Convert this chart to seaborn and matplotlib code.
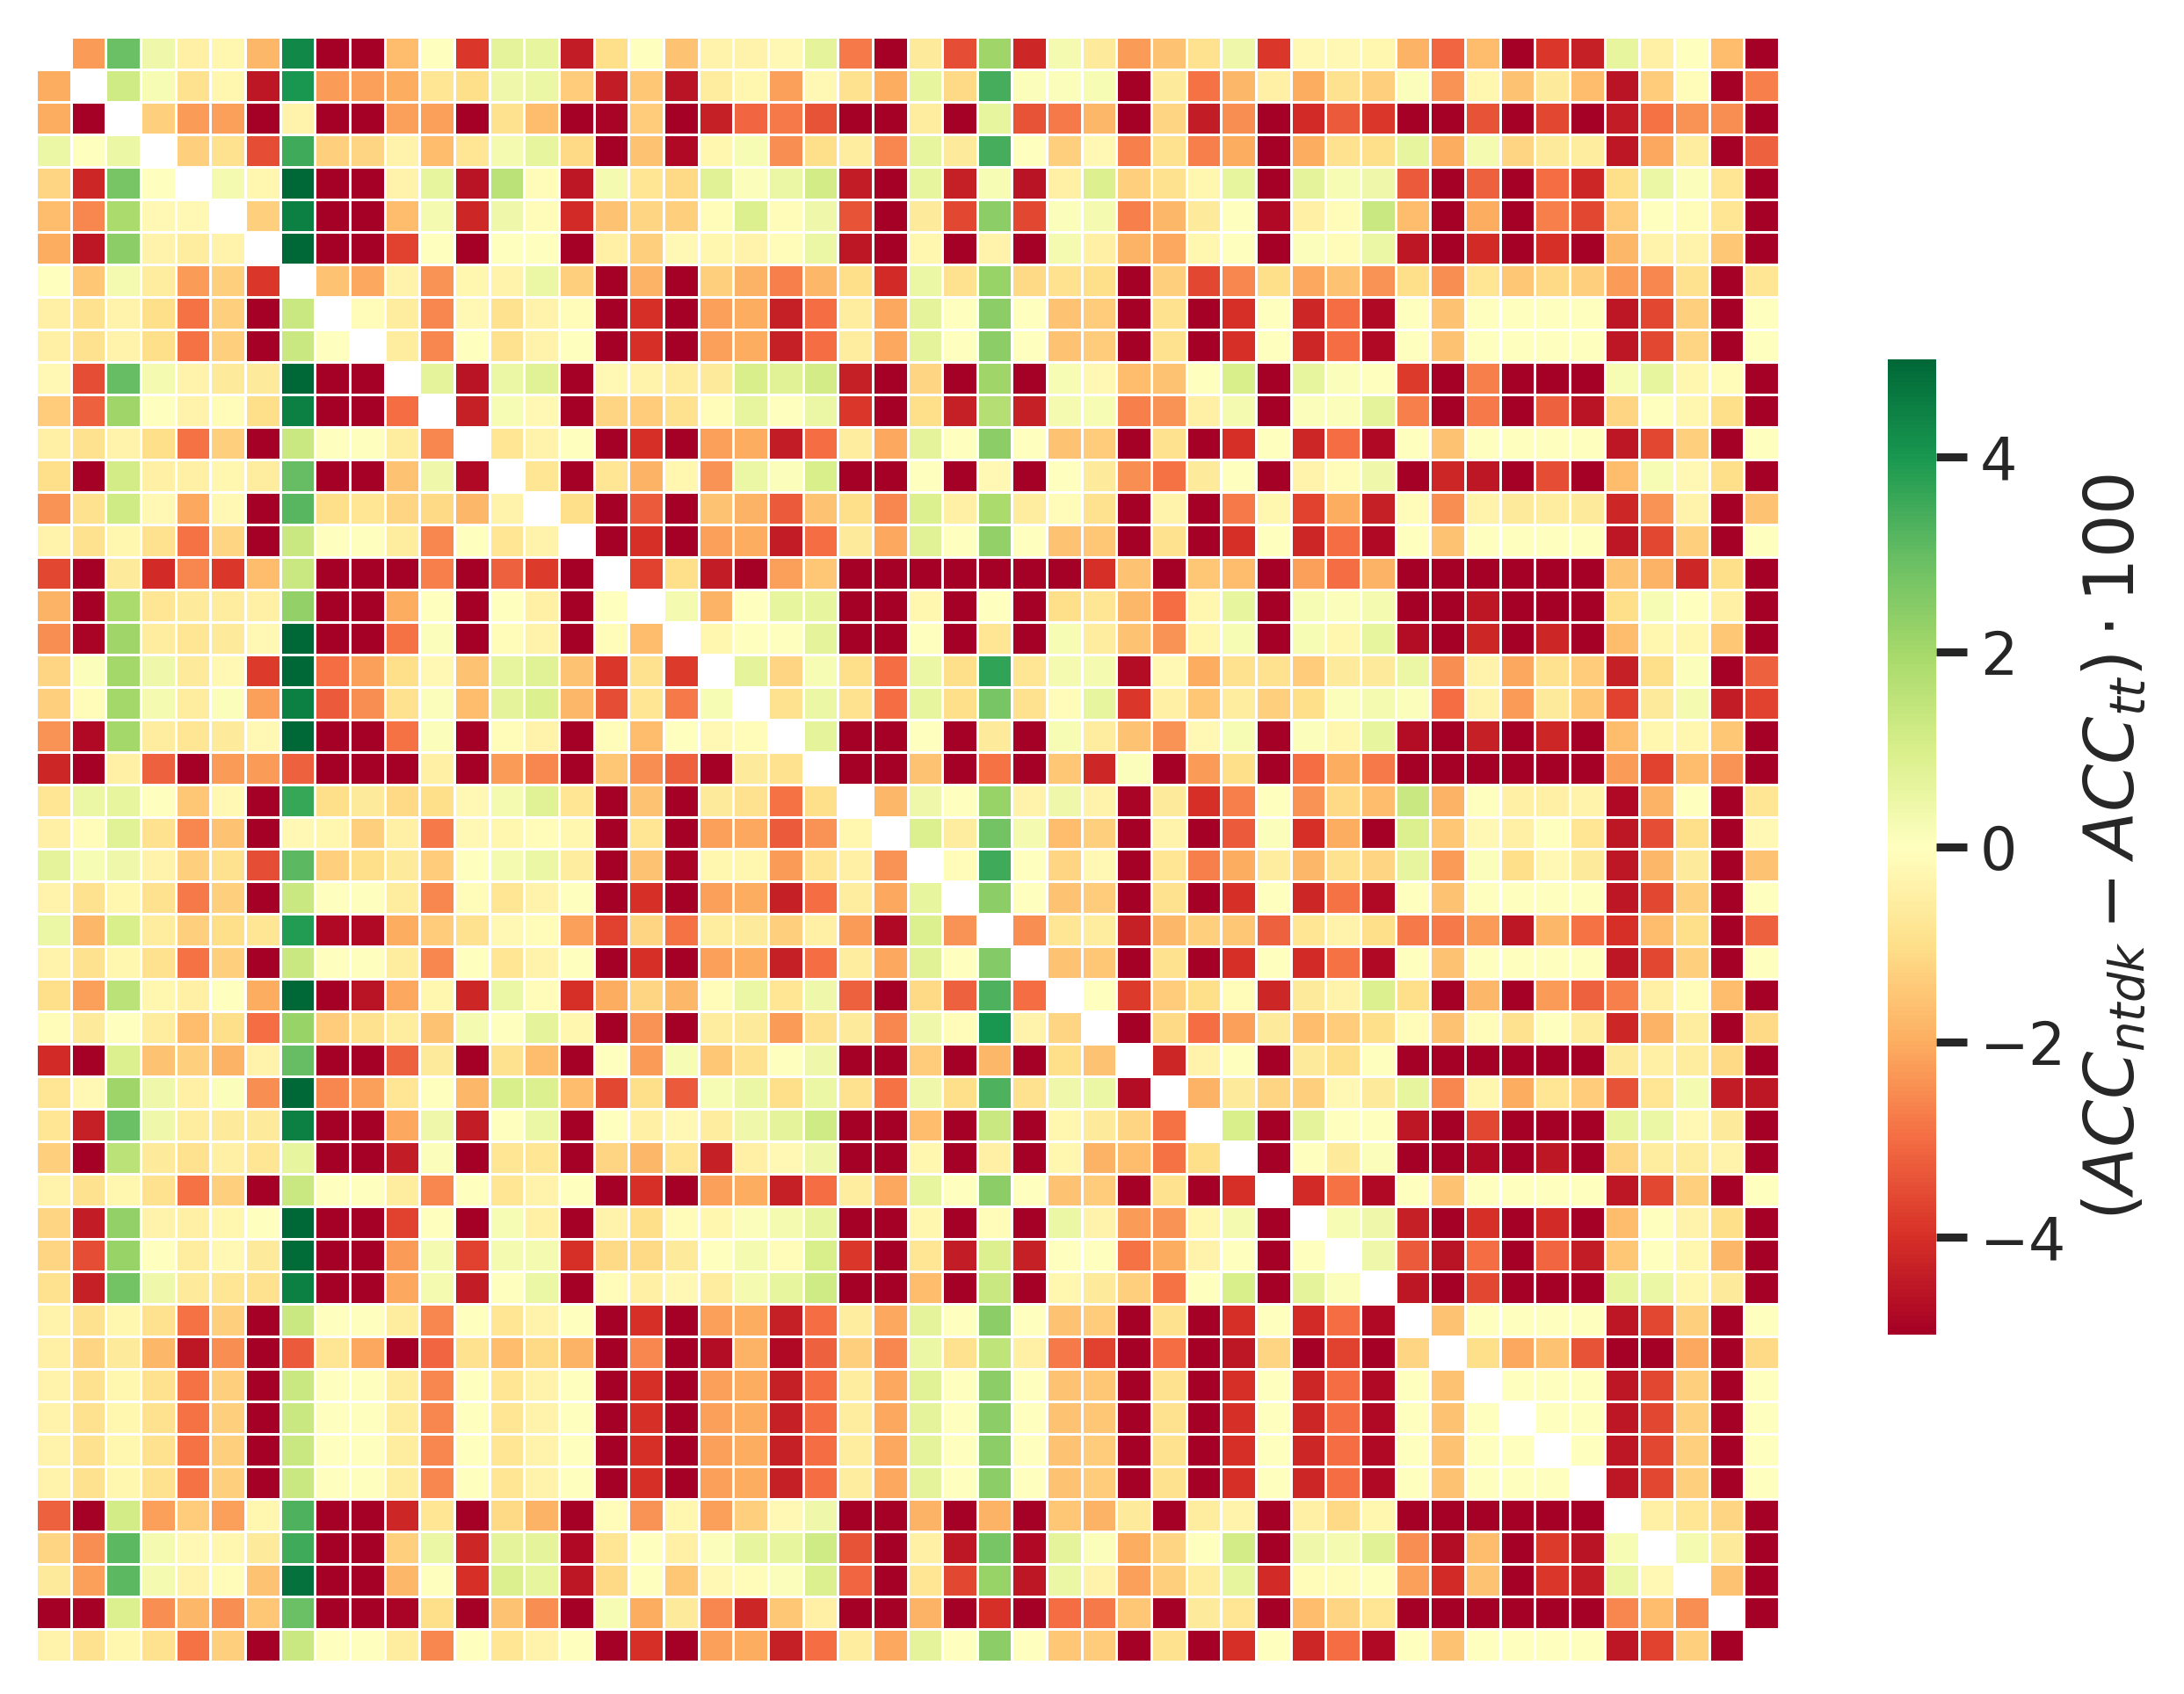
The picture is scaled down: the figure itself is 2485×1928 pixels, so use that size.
import numpy as np
import pandas as pd
import matplotlib
matplotlib.use("Agg")
import matplotlib.pyplot as plt
import seaborn as sns

n = float("nan")

# one list per row, n is the blank diagonal
row_00 = [n,-2.3,2.9,0.4,-0.5,-0.3,-1.8,4.3,-5,-5,-1.7,0,-3.9,0.7,0.6,-4.4,-1,0,-1.6,-0.4,-0.4,-0.2,0.7,-2.8,-5,-0.7,-3.5,2.1,-4.2,0.3,-0.7,-2.3,-1.6,-0.9,0.4,-3.9,-0.2,-0.2,-0.3,-1.9,-3.1,-1.7,-5,-3.9,-4.3,0.6,-0.5,0,-1.7,-5]
row_01 = [-2,n,1.2,0.2,-0.9,-0.3,-4.5,4,-2.3,-2.2,-2,-0.8,-1,0.4,0.5,-1.4,-4.4,-1.5,-4.6,-0.6,-0.3,-2.2,-0.2,-0.9,-2,0.6,-1.1,3.4,0.1,0.1,0.2,-5,-0.7,-2.9,-1.8,-0.5,-2,-0.9,-1.3,0.1,-2.4,-0.3,-1.6,-0.7,-1.7,-4.6,-1.4,-0.1,-5,-2.7]
row_02 = [-2,-5,n,-1.3,-2.3,-2.2,-5,-0.4,-5,-5,-2.2,-2.2,-5,-0.9,-1.7,-5,-4.9,-1.4,-5,-4.3,-3.1,-2.8,-3.4,-5,-5,-0.6,-5,0.6,-3.4,-2.8,-1.8,-5,-1.2,-4.4,-2.5,-5,-4.1,-3.3,-3.9,-5,-5,-3.4,-5,-3.6,-5,-4.4,-2.9,-2.4,-2.5,-5]
row_03 = [0.5,0,0.5,n,-1.3,-0.9,-3.5,3.5,-1.3,-1.2,-0.4,-1.7,-0.8,0.3,0.6,-1.1,-5,-1.6,-4.8,-0.3,0.2,-2.5,-1,-0.6,-2.6,0.6,-0.7,3.4,0,-1.3,-0.2,-2.7,-0.9,-2.7,-2,-5,-2,-0.9,-1,0.6,-2,0.3,-1.2,-0.7,-0.6,-4.5,-2.1,-0.6,-5,-3.2]
row_04 = [-1.2,-4.2,2.7,0,n,0.3,-0.3,5,-5,-5,-0.4,0.6,-4.6,1.6,-0.1,-4.5,0.3,-0.8,-1.1,0.8,0.1,0.5,1.1,-4.4,-5,0.6,-4.3,0.2,-4.6,-0.5,0.9,-1.3,-0.9,-0.3,0.6,-5,0.7,0.2,0.4,-3.3,-5,-3.2,-5,-3,-4.2,-1,0.5,0.1,-0.8,-5]
row_05 = [-1.7,-2.6,1.9,-0.2,-0.2,n,-1.3,4.5,-5,-5,-1.7,0.3,-4.2,0.4,-0.1,-4.1,-1.6,-1.2,-1.3,-0.1,0.9,-0.1,0.4,-3.4,-5,-0.7,-3.6,2.4,-3.6,0.1,0.3,-2.7,-1.8,-0.7,0,-4.8,-0.5,-0.1,1.3,-1.7,-5,-2,-5,-2.7,-3.6,-1.4,0,-0.1,-0.8,-5]
row_06 = [-2,-4.5,2.4,-0.4,-0.6,-0.4,n,5,-5,-5,-3.7,0,-5,0,0,-5,-0.5,-1.3,-0.2,-0.3,-0.4,-0.1,0.5,-4.5,-5,-0.3,-5,-0.4,-5,0.3,-0.5,-1.9,-2.1,-0.3,0,-5,0.1,-0.1,0.5,-4.5,-5,-4.1,-5,-4,-5,-1.8,-0.4,-0.4,-1.5,-5]
row_07 = [0,-1.5,0.3,-0.6,-2.3,-1.3,-3.9,n,-1.6,-2.1,-0.4,-2.4,-0.3,-0.4,0.5,-1.3,-5,-1.9,-5,-1.3,-1.9,-2.7,-1.8,-1,-4.1,0.5,-0.9,2.2,-1.1,-0.9,-1,-5,-1.3,-3.6,-2.6,-1,-2.1,-1.6,-2.4,-1,-2.5,-0.8,-1.5,-1.1,-1.3,-2.3,-2.6,-0.9,-5,-0.8]
row_08 = [-0.5,-0.9,-0.4,-1,-2.9,-1.3,-5,1.3,n,-0.1,-0.6,-2.6,-0.2,-0.9,-0.4,-0.1,-5,-4,-5,-2.2,-2,-4.3,-3,-0.6,-2.1,0.7,0,2.4,0,-1.6,-1.4,-5,-0.9,-5,-4,0,-4.2,-3,-4.8,0,-1.6,0,0,0,0,-4.5,-3.6,-1.3,-5,0]
row_09 = [-0.5,-0.9,-0.4,-1,-2.9,-1.3,-5,1.3,0,n,-0.6,-2.6,0,-0.9,-0.4,0,-5,-4,-5,-2.2,-2,-4.3,-3,-0.6,-2.1,0.7,0,2.4,0,-1.6,-1.4,-5,-0.9,-5,-4,0,-4.2,-3,-4.8,0,-1.6,0,0,0,0,-4.5,-3.6,-1.2,-5,0]
row_10 = [-0.2,-3.5,3,0.3,-0.4,-0.7,-0.7,5,-5,-5,n,0.7,-4.6,0.5,0.8,-5,-0.2,-0.4,-0.6,-0.7,1,0.8,1.1,-4.3,-5,-1.2,-5,2.1,-5,0.2,-0.2,-1.7,-1.6,0,1,-5,0.6,0.1,0,-3.8,-5,-2.7,-5,-5,-5,0.2,0.6,-0.3,-0.1,-5]
row_11 = [-1.4,-3.2,2.1,0,-0.4,-0.1,-1,4.5,-5,-5,-3,n,-4.3,0.2,-0.2,-5,-1.2,-1.4,-0.9,-0.1,0.6,0,0.5,-3.9,-5,-1,-4.3,1.7,-4.3,0.3,0.2,-2.7,-2.4,-0.5,0.3,-5,0.1,0.1,0.7,-2.7,-5,-2.8,-5,-3.2,-4.6,-1.2,0,-0.3,-1,-5]
row_12 = [-0.5,-0.9,-0.4,-1,-2.9,-1.3,-5,1.3,0,0,-0.6,-2.6,n,-0.8,-0.4,0,-5,-4,-5,-2.2,-2,-4.4,-3,-0.6,-2.1,0.7,0,2.4,0,-1.6,-1.4,-5,-0.9,-5,-4,0,-4.2,-3,-4.8,0,-1.6,0,0,0,0,-4.5,-3.6,-1.3,-5,0]
row_13 = [-1,-5,1.1,-0.5,-0.5,-0.3,-0.6,3,-5,-5,-1.6,0.4,-4.8,n,-0.8,-5,-0.8,-1.9,-0.3,-2.4,0.5,0.1,1,-5,-5,0,-5,-0.2,-5,0,-0.7,-2.5,-2.9,-0.7,0,-5,-0.4,-0.1,0.4,-5,-4.2,-4.5,-5,-3.5,-5,-1.7,0.2,-0.2,-1,-5]
row_14 = [-2.4,-0.9,1.2,-0.2,-2.1,-0.2,-5,3.2,-1,-0.8,-1.2,-1.1,-1.8,-0.4,n,-1,-5,-3.3,-5,-1.6,-1.9,-3.3,-1.6,-1,-2.6,0.9,-0.5,1.9,-0.6,-0.1,-0.9,-5,-0.4,-5,-2.8,-0.3,-3.7,-2,-4.3,-0.1,-2.5,-0.4,-0.7,-0.6,-0.7,-4.2,-2.4,-0.4,-5,-1.6]
row_15 = [-0.4,-0.9,-0.3,-0.9,-2.9,-1.2,-5,1.3,0,0,-0.6,-2.6,0,-0.8,-0.4,n,-5,-4,-5,-2.2,-2,-4.4,-3,-0.7,-2.1,0.8,0,2.3,0,-1.6,-1.5,-5,-0.9,-5,-4,0,-4.2,-3,-4.8,0,-1.6,0,0,0,0,-4.5,-3.6,-1.3,-5,0]
row_16 = [-3.6,-5,-0.7,-4.1,-2.6,-3.9,-1.7,1.3,-5,-5,-5,-2.7,-5,-3.2,-3.8,-5,n,-3.7,-1,-4.4,-5,-2.2,-1.5,-5,-5,-5,-5,-5,-5,-5,-4,-1.6,-5,-1.5,-1.7,-5,-2.2,-3,-1.9,-5,-5,-5,-5,-5,-5,-1.6,-1.9,-4.2,-1,-5]
row_17 = [-1.9,-5,1.9,-0.8,-0.7,-0.6,-0.5,2.3,-5,-5,-2,0,-5,0,-0.5,-5,0,n,0.3,-1.9,0,0.6,0.6,-5,-5,-0.3,-5,0,-5,-1,-0.8,-1.8,-3,-0.3,0.6,-5,0.2,0.1,0.3,-5,-5,-4.5,-5,-5,-5,-1,0.2,0,-0.5,-5]
row_18 = [-2.5,-4.9,2.1,-0.6,-0.8,-0.7,-0.2,5,-5,-5,-2.9,0.1,-5,-0.1,-0.4,-5,-0.1,-1.7,n,-0.3,0,0,0.7,-5,-5,0,-5,-0.8,-5,0.2,-0.6,-1.6,-2.4,-0.3,0.2,-5,0.2,-0.3,0.6,-4.7,-5,-4.2,-5,-4.2,-5,-1.7,-0.3,-0.3,-1.5,-5]
row_19 = [-1.2,0.1,2,0.4,-0.7,-0.2,-3.8,5,-3,-2.2,-1,-0.2,-1.6,0.6,0.8,-1.6,-3.9,-0.9,-3.8,n,0.7,-1.2,0.2,-1,-3,0.5,-1,3.7,-0.8,0.3,0.3,-4.7,-0.2,-2,-0.9,-0.9,-1.4,-0.7,-0.7,0.5,-2.5,-0.4,-2.1,-0.9,-1.4,-4.3,-1,0.1,-5,-3.2]
row_20 = [-1.3,-0.1,2,0.3,-0.6,0.1,-2.2,4.5,-3.3,-2.5,-0.9,0.1,-1.7,0.7,0.9,-1.8,-3.5,-0.8,-2.8,0.2,n,-0.9,0.5,-0.9,-3,0.6,-1,2.7,-0.9,-0.1,0.6,-3.9,-0.5,-1.5,-0.6,-1.3,-1,0.1,0.3,0.1,-3,-0.4,-2.3,-0.7,-1.5,-3.7,-0.7,0.3,-4.4,-3.7]
row_21 = [-2.4,-4.8,2,-0.6,-0.8,-0.7,-0.2,5,-5,-5,-2.9,0.1,-5,-0.1,-0.4,-5,-0.1,-1.7,0,-0.2,-0.1,n,0.7,-5,-5,0,-5,-0.7,-5,0.2,-0.6,-1.6,-2.4,-0.2,0.2,-5,0.1,-0.3,0.6,-4.7,-5,-4.3,-5,-4.2,-5,-1.7,-0.3,-0.3,-1.5,-5]
row_22 = [-4.2,-5,-0.5,-3.2,-5,-2.3,-2.3,-3.2,-5,-5,-5,-0.5,-5,-2.3,-2.6,-5,-1.5,-2.5,-3.2,-5,-0.7,-0.9,n,-5,-5,-1.6,-5,-2.9,-5,-1.5,-4.2,0.1,-5,-2.3,-1,-5,-3,-2,-2.8,-5,-5,-5,-5,-5,-5,-2.3,-3.7,-1.7,-2.4,-5]
row_23 = [-0.8,0.5,0.6,0,-1.5,-0.2,-5,3.6,-1,-0.7,-1.1,-1,-0.2,0.3,0.8,-0.8,-5,-1.6,-5,-0.7,-0.9,-2.9,-1,n,-1.8,0.4,0,2.2,-0.4,0.4,-0.4,-4.9,-0.7,-4,-2.7,0,-2.4,-1.1,-1.7,1.3,-1.9,0,-0.5,-0.5,-0.4,-4.8,-1.9,0,-5,-0.8]
row_24 = [-0.5,-0.1,0.8,-0.9,-2.6,-1.6,-5,-0.2,-0.3,-1.3,-0.5,-2.8,-0.2,-0.3,-0.1,-0.3,-5,-0.8,-5,-2.2,-2.1,-3.3,-2.4,-0.3,n,0.9,-0.6,2.8,0.3,-1.7,-1.3,-5,-0.4,-5,-3.3,0.1,-4,-2,-5,0.9,-1.5,-0.2,-0.5,0,-0.8,-4.5,-3.5,-1,-5,-0.2]
row_25 = [0.7,0.2,0.4,-0.4,-1.3,-0.9,-3.5,3.1,-1.3,-1,-0.7,-1.4,0,0.3,0.5,-0.6,-5,-1.6,-4.9,-0.3,-0.3,-2.3,-0.8,-0.5,-2.4,n,-0.1,3.5,0,-1.2,-0.2,-5,-0.8,-2.7,-2,-0.6,-1.8,-0.9,-1.2,0.6,-2.3,0.1,-1,-0.2,-0.7,-4.5,-1.8,-0.7,-5,-1.6]
row_26 = [-0.4,-0.9,-0.3,-0.9,-2.8,-1.3,-5,1.3,0,0,-0.6,-2.6,-0.1,-0.8,-0.4,0,-5,-4,-5,-2.2,-2,-4.3,-3,-0.6,-2.1,0.6,n,2.4,0,-1.6,-1.4,-5,-0.9,-5,-4,0,-4.2,-2.9,-4.8,0,-1.6,0,0,0,0,-4.5,-3.6,-1.3,-5,0]
row_27 = [0.5,-1.8,1,-0.6,-1.3,-1,-0.8,3.9,-4.8,-4.8,-2,-1.4,-0.9,-0.2,-0.1,-2.2,-3.7,-1.2,-2.9,-0.6,-0.7,-1.3,-0.5,-2.3,-4.8,0.9,-2.4,n,-2.5,-0.8,-0.6,-4.3,-1.8,-1.3,-1.5,-3.2,-0.8,-0.4,-1,-2.8,-2.8,-2.3,-4.5,-1.8,-2.9,-4,-1.7,-1,-5,-3.2]
row_28 = [-0.4,-0.9,-0.3,-0.9,-2.9,-1.3,-5,1.3,0,0,-0.6,-2.6,0,-0.8,-0.4,0,-5,-4,-5,-2.2,-2,-4.3,-3,-0.6,-2.1,0.8,0,2.5,n,-1.6,-1.5,-5,-0.9,-5,-4,0,-4.1,-2.9,-4.8,0,-1.6,0,0,0,0,-4.5,-3.6,-1.3,-5,0]
row_29 = [-1,-2.2,1.6,-0.3,-0.5,0,-2,5,-5,-4.6,-2.1,-0.3,-4.2,0.5,-0.1,-4,-2,-1.2,-1.8,-0.1,0.5,-0.8,0.4,-3.2,-5,-1.1,-3.2,3.3,-3,n,0,-3.8,-1.4,-1,-0.1,-4.2,-0.7,-0.4,0.9,-1,-5,-1.8,-5,-2.3,-3.2,-2.7,-0.5,-0.1,-1.7,-5]
row_30 = [-0.1,-0.7,0,-0.6,-1.7,-1,-3,2.2,-1.4,-0.9,-0.6,-1.6,0.3,0,0.7,-0.3,-5,-2.4,-5,-0.6,-0.7,-2.3,-0.9,-0.7,-2.6,0.4,-0.1,4,-0.4,-1.2,n,-5,-1.1,-3,-2.2,-0.7,-1.7,-1.4,-1,-0.1,-1.6,-0.1,-0.9,0,-0.6,-4.2,-1.9,-0.6,-5,-1.1]
row_31 = [-4.1,-5,0.9,-1.6,-1.3,-1.9,-0.4,3,-5,-5,-3.2,-0.7,-5,-0.9,-1.7,-5,0,-2.3,0.2,-1.5,-0.9,0,0.4,-5,-5,-1.4,-5,-1.8,-5,-1,-1.6,n,-4.2,-0.4,0,-5,-0.7,-1,0,-5,-5,-5,-5,-5,-5,-0.7,-0.5,-0.6,-1.1,-5]
row_32 = [-0.8,-0.2,2.1,0.4,-0.5,0.1,-2.5,5,-2.6,-2.2,-0.8,0,-1.8,1,0.9,-1.7,-3.6,-1,-3.3,0.2,0.5,-1,0.5,-0.9,-2.9,0.4,-1,3.3,-0.9,0.4,0.5,-4.7,n,-1.9,-0.7,-1.2,-1.3,-0.2,-0.7,0.6,-2.6,-0.3,-2,-0.8,-1.4,-3.4,-0.8,0.3,-4.4,-4.5]
row_33 = [-0.8,-4.3,2.9,0.4,-0.6,-0.7,-0.7,4.5,-5,-5,-2.1,0.4,-4.4,0,0.5,-5,0,-0.5,-0.2,-0.6,0.4,0.7,1.2,-5,-5,-1.7,-5,1.3,-5,-0.3,-0.7,-1.2,-2.9,n,1,-5,0.7,0,0,-4.5,-5,-3.6,-5,-5,-5,0.6,0.5,-0.2,-0.7,-5]
row_34 = [-1.3,-5,1.6,-0.7,-0.9,-0.5,-0.8,0.6,-5,-5,-4.4,0.1,-5,-0.8,-0.8,-5,-1.2,-1.8,-0.8,-4.3,-0.5,-0.2,0.4,-5,-5,-0.3,-5,-0.5,-5,-0.3,-1.9,-1.7,-2.9,-1,n,-5,0,-0.7,0.1,-5,-5,-4.8,-5,-4.5,-5,-1.2,-0.6,-0.6,-0.4,-5]
row_35 = [-0.4,-0.9,-0.3,-0.9,-2.9,-1.3,-5,1.3,0,0,-0.6,-2.6,0,-0.8,-0.4,0,-5,-4,-5,-2.2,-2,-4.3,-3,-0.6,-2.1,0.6,0,2.4,0,-1.6,-1.4,-5,-0.9,-5,-4,n,-4.1,-2.9,-4.8,0,-1.6,0,0,0,0,-4.5,-3.6,-1.3,-5,0]
row_36 = [-1.2,-4.4,2.3,-0.4,-0.5,-0.3,0,5,-5,-5,-3.7,0,-5,0.2,-0.5,-5,-0.4,-1,-0.1,-0.3,0.1,0.3,0.6,-5,-5,-0.3,-5,-0.1,-5,0.5,-0.4,-2.3,-2.4,-0.3,0.3,-5,n,0.2,0.4,-4.3,-5,-4,-5,-4.1,-5,-1.7,0,-0.4,-1,-5]
row_37 = [-1.2,-3.5,2.2,0,-0.6,-0.2,-0.7,4.9,-5,-5,-2.3,0.3,-3.7,0.3,0.3,-4,-1.1,-1.1,-0.7,0,0.3,-0.1,1,-3.9,-5,-0.8,-4.4,0.9,-4.3,0,0,-2.9,-2,-0.4,0,-5,0,n,0.4,-3.3,-4.6,-3,-5,-3.1,-4.4,-1.5,0,-0.3,-1.8,-5]
row_38 = [-0.9,-4.3,2.8,0.4,-0.7,-0.8,-0.9,4.5,-5,-5,-2.1,0.3,-4.4,0,0.5,-5,-0.1,-0.5,-0.2,-0.6,0.3,0.6,1.2,-5,-5,-1.7,-5,1.3,-5,-0.3,-0.7,-1.3,-2.9,0,1,-5,0.7,0.1,n,-4.5,-5,-3.6,-5,-5,-5,0.6,0.5,-0.3,-0.7,-5]
row_39 = [-0.4,-0.9,-0.3,-0.9,-2.9,-1.3,-5,1.3,0,0,-0.6,-2.6,0,-0.8,-0.4,0,-5,-4,-5,-2.2,-2,-4.3,-3,-0.6,-2.1,0.7,0,2.4,0,-1.6,-1.4,-5,-0.9,-5,-4,0,-4.1,-3,-4.8,n,-1.6,0,0,0,0,-4.5,-3.6,-1.3,-5,0]
row_40 = [-0.5,-1.2,-0.7,-1.8,-4.5,-2.5,-5,-3.3,-0.8,-2.1,-5,-3.1,-0.9,-1.7,-1.1,-1.9,-5,-2.6,-5,-4.7,-1.9,-4.8,-3.2,-1.3,-2.6,0.5,-0.9,1.5,-0.5,-2.8,-3.7,-5,-3,-5,-4.5,-1.2,-5,-3.7,-5,-1.2,n,-1,-2.1,-1.6,-3.4,-5,-5,-2.1,-5,-1.1]
row_41 = [-0.4,-0.9,-0.3,-0.9,-2.9,-1.3,-5,1.3,0,0,-0.6,-2.6,0,-0.8,-0.4,0,-5,-4,-5,-2.2,-2,-4.3,-3,-0.6,-2.1,0.8,0,2.4,0,-1.6,-1.5,-5,-0.9,-5,-4,0,-4.2,-3,-4.8,0,-1.6,n,0,0,0,-4.5,-3.6,-1.3,-5,0]
row_42 = [-0.4,-0.9,-0.3,-0.9,-2.9,-1.3,-5,1.3,0,0,-0.6,-2.6,0,-0.8,-0.4,0,-5,-4,-5,-2.2,-2,-4.3,-3,-0.6,-2.1,0.7,0,2.4,0,-1.6,-1.5,-5,-0.9,-5,-4,0,-4.2,-3,-4.8,0,-1.6,0,n,0,0,-4.5,-3.6,-1.3,-5,0]
row_43 = [-0.4,-0.9,-0.3,-0.9,-2.9,-1.3,-5,1.3,0,0,-0.6,-2.6,0,-0.8,-0.4,0,-5,-4,-5,-2.2,-2,-4.3,-3,-0.6,-2.1,0.7,0,2.4,0,-1.6,-1.4,-5,-0.9,-5,-4,0,-4.2,-3,-4.8,0,-1.6,0,0,n,0,-4.5,-3.6,-1.3,-5,0]
row_44 = [-0.4,-0.9,-0.3,-0.9,-2.9,-1.3,-5,1.3,0,0,-0.6,-2.6,0,-0.8,-0.4,0,-5,-4,-5,-2.2,-2,-4.3,-3,-0.6,-2.1,0.7,0,2.4,0,-1.6,-1.4,-5,-0.9,-5,-4,0,-4.2,-3,-4.8,0,-1.6,0,0,0,n,-4.5,-3.6,-1.3,-5,0]
row_45 = [-3.2,-5,1.1,-2.2,-1.4,-2.2,-0.3,3.3,-5,-5,-4.2,-0.8,-5,-1.1,-1.9,-5,-0.1,-2.4,-0.3,-2.2,-1.3,-0.2,0.4,-5,-5,-1.9,-5,-1.9,-5,-1.5,-1.9,-0.7,-5,-0.6,-0.4,-5,-0.5,-1.1,-0.3,-5,-5,-5,-5,-5,-5,n,-0.5,-0.8,-1.2,-5]
row_46 = [-1.2,-2.5,3.1,0.3,-0.2,-0.3,-0.7,3.5,-5,-5,-1.3,0.5,-4.2,0.7,0.7,-4.8,-0.8,0,-0.5,0.1,0.6,0.6,1.2,-3.4,-5,-0.5,-4.5,2.7,-4.8,0.7,0.1,-2,-1.2,0,1.1,-5,0.4,0.3,0.8,-2.5,-4.7,-1.7,-5,-3.8,-4.6,0.2,n,0.3,-0.7,-5]
row_47 = [-0.7,-2.2,3.1,0.3,-0.4,-0.1,-1.6,4.8,-5,-5,-1.8,0,-4,0.9,0.6,-4.5,-1.1,0,-1.5,-0.2,-0.1,0.1,0.9,-3.1,-5,-0.8,-3.6,2.2,-4.5,0.5,-0.4,-2.2,-1.3,-0.6,0.6,-4.1,-0.1,-0.1,0,-2.2,-4.1,-1.6,-5,-3.9,-4.4,0.5,-0.2,n,-1.6,-5]
row_48 = [-5,-5,0.9,-2.5,-1.8,-2.5,-1.5,2.9,-5,-5,-4.9,-1,-5,-1.6,-2.5,-5,0.2,-2,-0.7,-2.6,-4.2,-1.5,-0.5,-5,-5,-1.9,-5,-4,-5,-3,-2.8,-1.5,-5,-0.7,-0.8,-5,-1.7,-1.2,-0.8,-5,-5,-5,-5,-5,-5,-2.6,-1.7,-2.5,n,-5]
row_49 = [-0.4,-0.9,-0.3,-0.9,-2.9,-1.3,-5,1.3,0,0,-0.6,-2.6,0,-0.8,-0.4,0,-5,-4,-5,-2.2,-2,-4.3,-3,-0.6,-2.1,0.7,0,2.4,0,-1.5,-1.4,-5,-0.9,-5,-4,0,-4.2,-3,-4.8,0,-1.6,0,0,0,0,-4.5,-3.7,-1.3,-5,n]

rows = [row_00, row_01, row_02, row_03, row_04, row_05, row_06, row_07, row_08, row_09,
        row_10, row_11, row_12, row_13, row_14, row_15, row_16, row_17, row_18, row_19,
        row_20, row_21, row_22, row_23, row_24, row_25, row_26, row_27, row_28, row_29,
        row_30, row_31, row_32, row_33, row_34, row_35, row_36, row_37, row_38, row_39,
        row_40, row_41, row_42, row_43, row_44, row_45, row_46, row_47, row_48, row_49]
cbar_ticks = [-4, -2, 0, 2, 4]

sns.set_style("white")
W, H = 2485, 1928
fig = plt.figure(figsize=(W / 300, H / 300), dpi=300)
ax = fig.add_axes([41 / W, 1 - 1891 / H, (2024 - 41) / W, (1891 - 42) / H])
cax = fig.add_axes([2148 / W, 1 - 1519 / H, 55 / W, (1519 - 409) / H])

df = pd.DataFrame(rows)
sns.heatmap(df, ax=ax, cbar_ax=cax, cmap="RdYlGn", vmin=-5, vmax=5,
            linewidths=0.7, linecolor="white",
            xticklabels=False, yticklabels=False)

cax.set_yticks(cbar_ticks)
cax.tick_params(axis="y", length=8.5, width=2.2, pad=3.5, labelsize=16, color=".15", labelcolor=".15", right=True)
cax.set_ylabel(r"$(ACC_{ntdk} - ACC_{tt}) \cdot 100$", fontsize=18.7, color=".15", labelpad=3.5)

fig.savefig("out.png", dpi=300)
